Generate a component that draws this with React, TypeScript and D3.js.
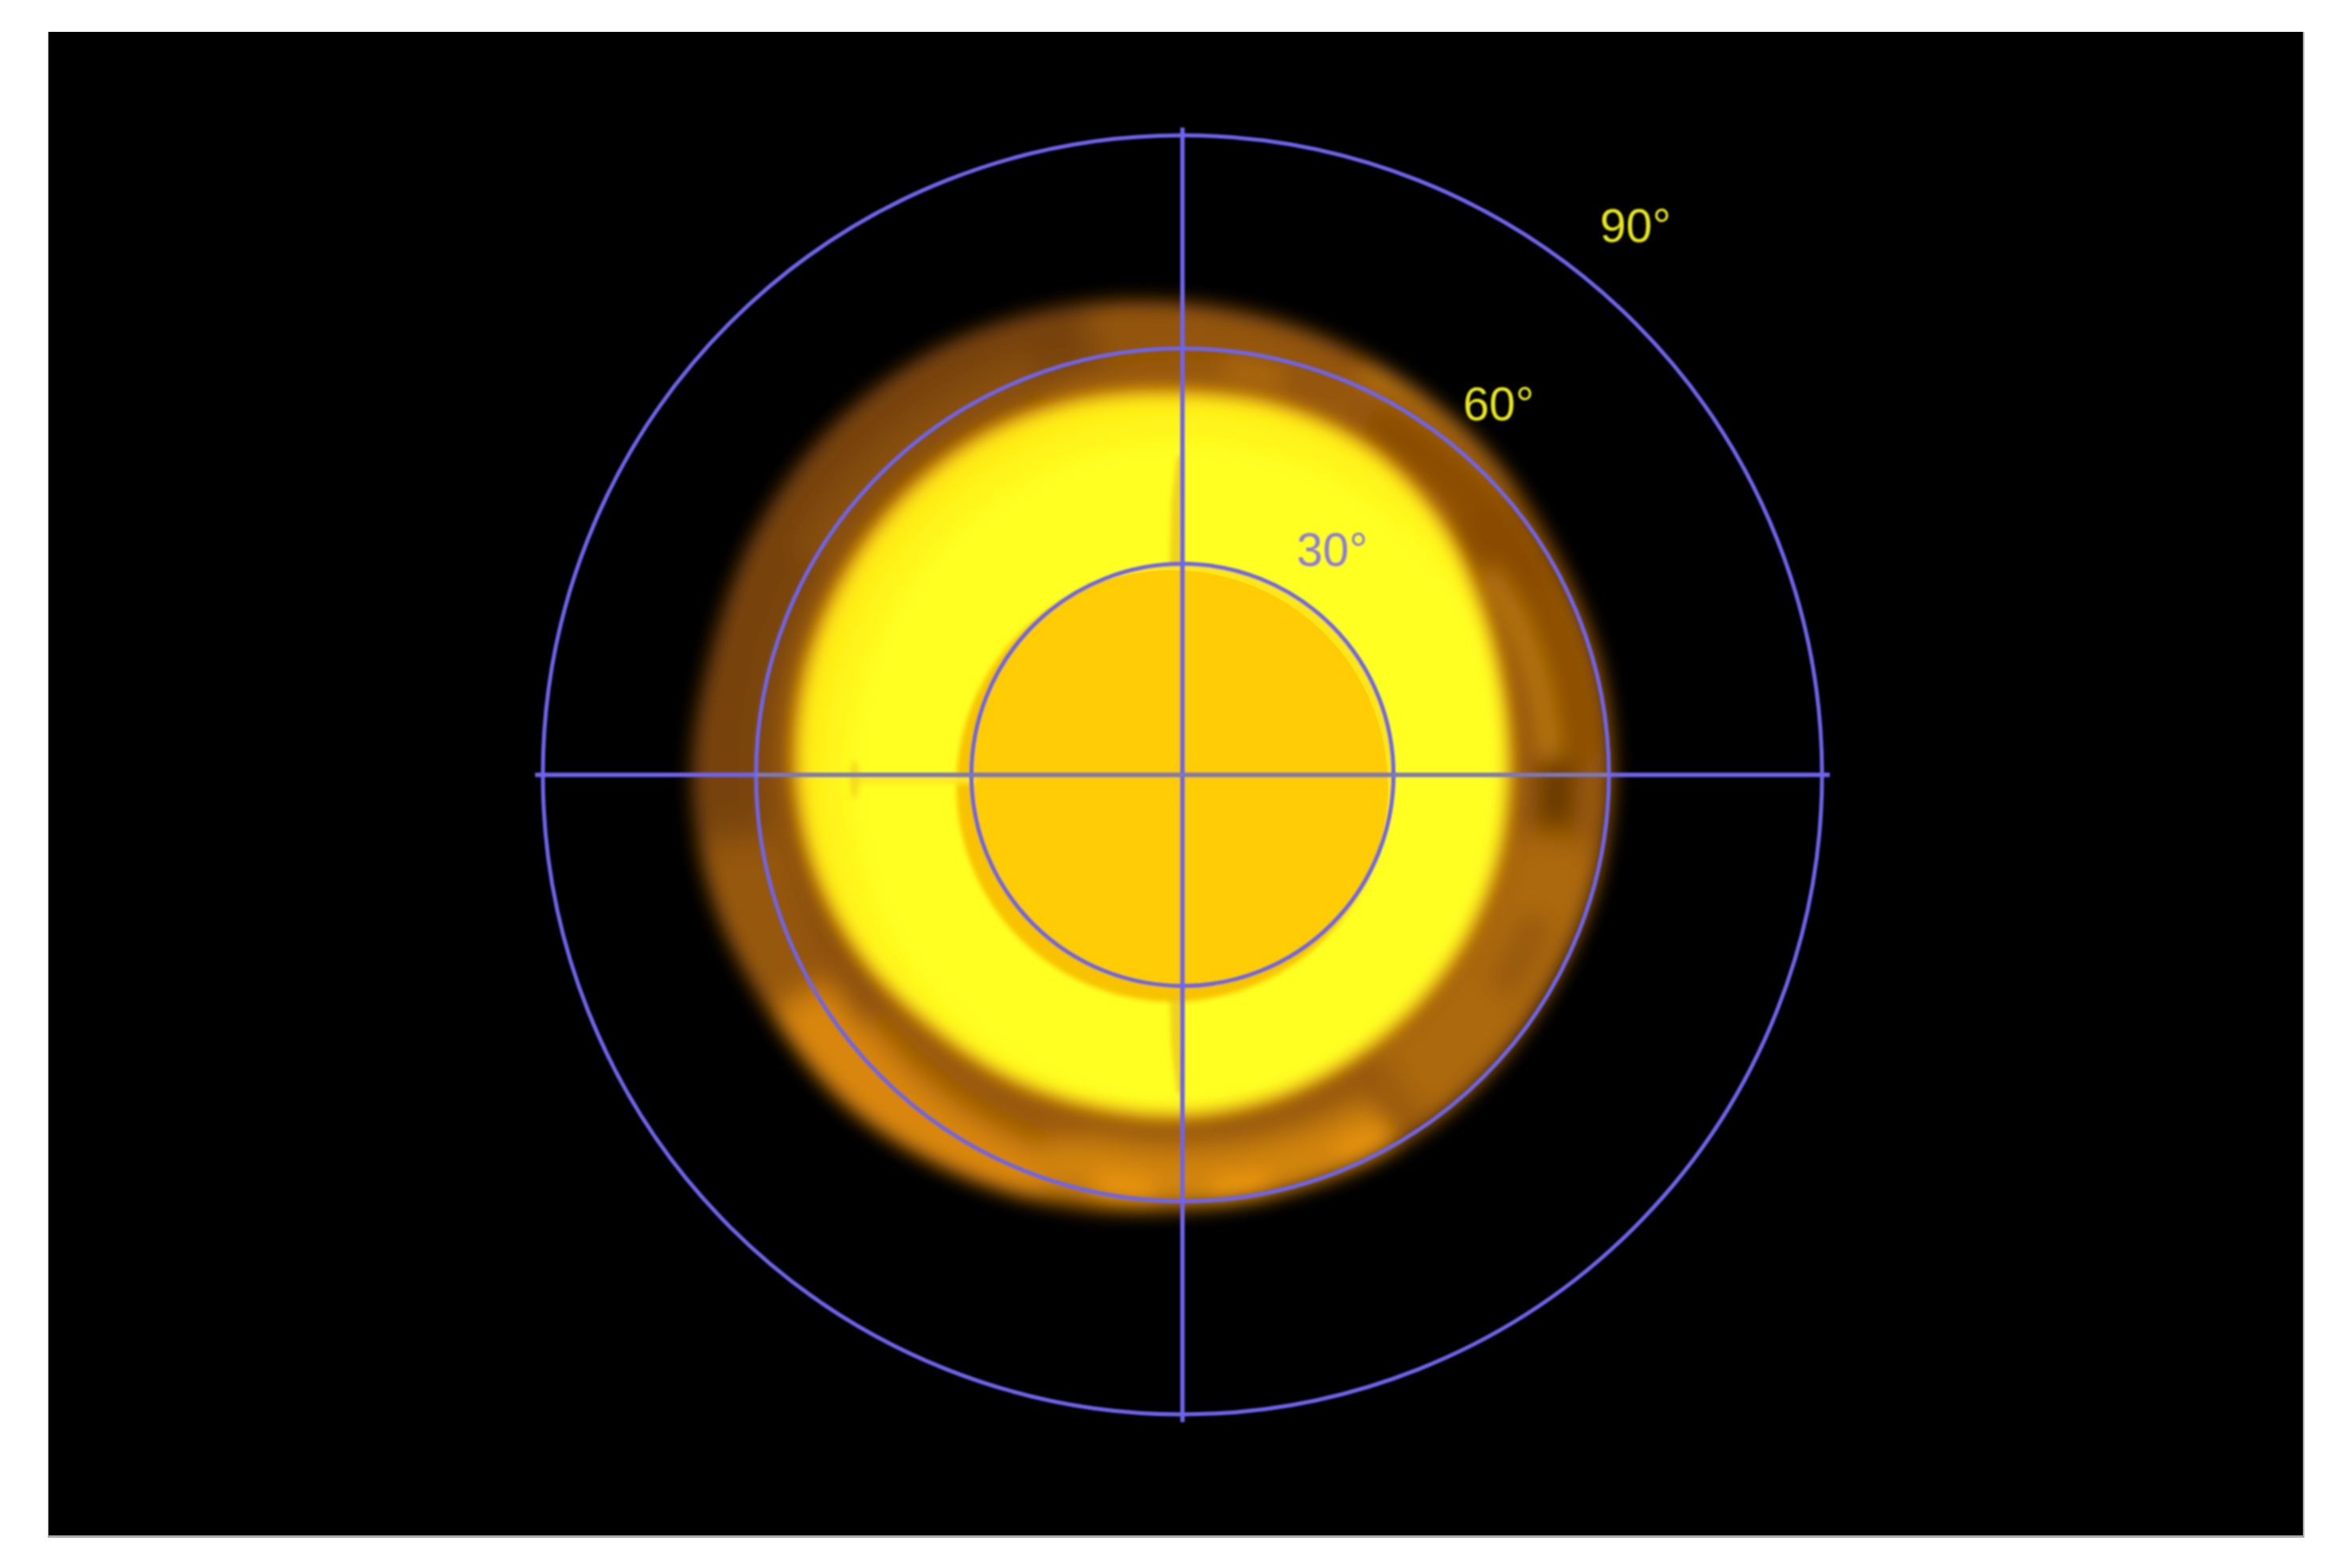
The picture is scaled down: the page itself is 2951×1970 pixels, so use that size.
import React from "react";
import * as d3 from "d3";

// Polar angle of the plot, in degrees
const ringDegrees = [29.7, 60, 90];
const ringLabels = ["30°", "60°", "90°"];
const axisReach = [91.1];
// Blob edges: angle clockwise from top -> polar degrees
const edgeAngles = [0,15,30,45,60,75,90,105,120,135,150,165,180,195,210,225,240,255,270,285,300,315,330,345];
const outerEdge = [66.4,65,63.5,62.3,61,60.8,60.6,60.3,60,60.3,60.6,60.6,61.1,62.8,64.5,66.3,67,68.4,69,68.5,69.1,69.5,69.2,68];
const yellowEdge = [53.4,53.3,52.6,50.6,48,46.3,45.6,45.6,45.7,45.9,46.3,47,47.6,48,48.8,49.7,51.5,53,54,54.6,54.8,55,55,54.3];
// Brightness patches of the outer ring: start angle, end angle, inner, outer, colour
const patchStart = [262,348,198,150,195,232,48,56,88,100,24,28,340,300,168,184,150,112,6];
const patchEnd = [350,22,240,200,248,268,88,88,98,145,50,62,15,340,176,192,158,124,14];
const patchInner = [58,60,56,52.5,49.5,52,50,50.5,50.5,47,61,54,54,58,57,57,56,52,56];
const patchOuter = [72,67,68,61,53.5,57,58,53,55,60,65,59,58,63,60.5,60.5,59.5,56,59];
const patchColor = ["#74420a","#93550a","#e08c0a","#d88a0c","#985808","#8a5008","#8a4e06","#cf8a10","#603503","#b06c0a","#bf7a12","#884c06","#9a5c08","#8c5208","#f09a10","#ee9810","#e89410","#92560a","#b06c10"];
const patchBlur = [16,14,16,14,12,12,14,9,8,16,10,12,10,14,7,7,7,9,7];

const W = 2951, H = 1970;
const frame = { x0: 61, y0: 40, x1: 2893, y1: 1929 };
const cx = 1485.5, cy = 973.5;
const r = d3.scaleLinear().domain([0, 90]).range([0, 803.5]);
const LINE = "#6e64ee";

function edgePath(values: number[]) {
  const pts = edgeAngles.map((a, i) => [(a * Math.PI) / 180, r(values[i])] as [number, number]);
  return d3.lineRadial().curve(d3.curveCatmullRomClosed.alpha(0.5))(pts) as string;
}

export default function App() {
  const arc = d3.arc();
  const blurs = Array.from(new Set([...patchBlur, 1, 3, 9, 10, 11, 12, 16]));
  const a0 = r(axisReach[0]);
  return (
    <svg width={W} height={H} viewBox={`0 0 ${W} ${H}`} style={{ position: "absolute", left: 0, top: 0, display: "block", background: "#fff" }}>
      <defs>
        {blurs.map((b) => (
          <filter key={b} id={`blur${b}`} filterUnits="userSpaceOnUse" x={-W} y={-H} width={2 * W} height={2 * H}>
            <feGaussianBlur stdDeviation={b === 1 ? 0.8 : b} />
          </filter>
        ))}
        <radialGradient id="yellowFill" gradientUnits="userSpaceOnUse" cx={0} cy={0} r={500}>
          <stop offset="0.5" stopColor="#ffff24" />
          <stop offset="0.8" stopColor="#ffff22" />
          <stop offset="0.92" stopColor="#fff018" />
          <stop offset="1" stopColor="#ffdc10" />
        </radialGradient>
        <clipPath id="blobClip">
          <path d={edgePath(outerEdge)} />
        </clipPath>
        <clipPath id="diskClip">
          <circle cx={cx} cy={cy} r={r(ringDegrees[0]) - 2} />
        </clipPath>
      </defs>
      <rect x={frame.x0 - 1} y={frame.y0} width={frame.x1 - frame.x0 + 3} height={frame.y1 - frame.y0 + 3} fill="#aaa" />
      <rect x={frame.x0} y={frame.y0} width={frame.x1 - frame.x0} height={frame.y1 - frame.y0} fill="#000" />
      <g transform={`translate(${cx},${cy})`}>
        <g filter="url(#blur12)">
          <path d={edgePath(outerEdge)} fill="#96580a" />
          <g clipPath="url(#blobClip)">
            {patchStart.map((s, i) => {
              const start = (s * Math.PI) / 180;
              const end = ((patchEnd[i] < s ? patchEnd[i] + 360 : patchEnd[i]) * Math.PI) / 180;
              return (
                <path
                  key={i}
                  d={arc({ startAngle: start, endAngle: end, innerRadius: r(patchInner[i]), outerRadius: r(patchOuter[i]) }) as string}
                  fill={patchColor[i]}
                  filter={`url(#blur${patchBlur[i]})`}
                  opacity={0.9}
                />
              );
            })}
          </g>
        </g>
        <path d={edgePath(yellowEdge.map((v) => v + 0.8))} fill="#dc9408" filter="url(#blur12)" />
        <path d={edgePath(yellowEdge)} fill="url(#yellowFill)" filter="url(#blur10)" />
      </g>
      {/* central disc */}
      <circle cx={cx - 13} cy={cy + 14} r={271} fill="#f8c204" filter="url(#blur3)" />
      <g clipPath="url(#diskClip)">
        <rect x={cx - 300} y={cy - 300} width={600} height={600} fill="#ffe61a" />
        <circle cx={cx - 13} cy={cy + 14} r={271} fill="#ffcc05" />
      </g>
      {/* seams along the axes */}
      <path d={`M${cx - 7},${cy - 400} L${cx},${cy - 400} L${cx},${cy - 262} L${cx - 16},${cy - 262} L${cx - 14},${cy - 340} Z`} fill="#e8c014" opacity={0.7} filter="url(#blur3)" />
      <path d={`M${cx - 16},${cy + 278} L${cx},${cy + 278} L${cx},${cy + 400} L${cx - 7},${cy + 400} L${cx - 14},${cy + 340} Z`} fill="#e8c014" opacity={0.7} filter="url(#blur3)" />
      <rect x={cx - 410} y={cy} width={150} height={12} fill="#ffe820" opacity={0.9} filter="url(#blur3)" />
      <ellipse cx={cx - 412} cy={cy + 6} rx={6} ry={24} fill="#ecca18" opacity={0.6} filter="url(#blur3)" />
      {/* rings and axes */}
      <g filter="url(#blur1)">
        {ringDegrees.map((d) => (
          <circle key={d} cx={cx} cy={cy} r={r(d)} fill="none" stroke={LINE} strokeWidth={5} />
        ))}
        <line x1={cx - a0} x2={cx + a0} y1={cy} y2={cy} stroke={LINE} strokeWidth={5.5} />
        <line x1={cx} x2={cx} y1={cy - a0} y2={cy + a0} stroke={LINE} strokeWidth={5.5} />
        <line x1={r(-60) + cx} x2={r(60) + cx} y1={cy} y2={cy} stroke="#84809a" strokeWidth={4} opacity={0.85} />
      </g>
      <g fontFamily="'Liberation Sans', Arial, sans-serif" fontSize={59} filter="url(#blur1)">
        <text x={1629} y={711} fill="#8c7ce0">{ringLabels[0]}</text>
        <text x={1838} y={528} fill="#e8e81e">{ringLabels[1]}</text>
        <text x={2010} y={304} fill="#e8e81e">{ringLabels[2]}</text>
      </g>
    </svg>
  );
}
